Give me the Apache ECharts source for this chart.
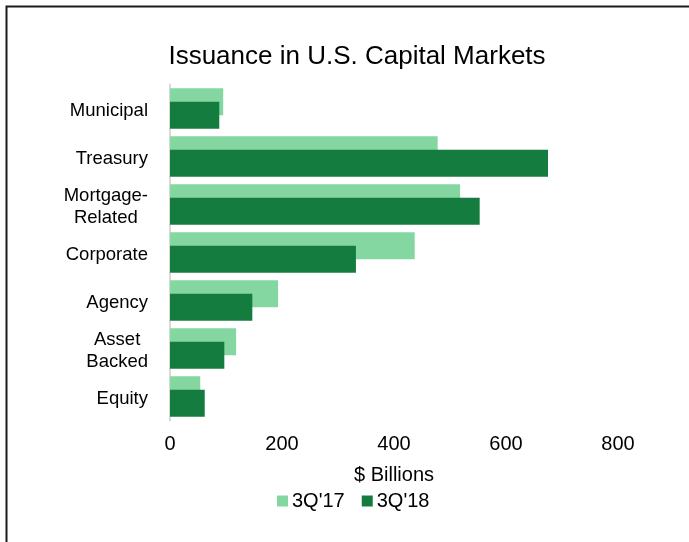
<!DOCTYPE html>
<html>
<head>
<meta charset="utf-8">
<script src="https://cdn.jsdelivr.net/npm/echarts@6/dist/echarts.min.js"></script>
<style>
  html, body { margin: 0; padding: 0; background: #fff; }
  #chart { width: 689px; height: 542px; }
</style>
</head>
<body>
<div id="chart"></div>
<script>
// Issuance by market segment, $ billions
const categories = ['Municipal', 'Treasury', 'Mortgage-\nRelated', 'Corporate', 'Agency', 'Asset\nBacked', 'Equity'];
const issuance3Q17 = [95, 478, 518, 437, 193, 118, 54];
const issuance3Q18 = [88, 675, 553, 332, 147, 97, 62];
const xTicks = [0, 200, 400, 600, 800];

const LIGHT = '#84d7a1';
const DARK = '#147c3f';
const FONT = '"Liberation Sans", Arial, sans-serif';

const chart = echarts.init(document.getElementById('chart'));

chart.setOption({
  backgroundColor: '#fff',
  animation: false,
  textStyle: { fontFamily: FONT, color: '#000' },
  title: {
    text: 'Issuance in U.S. Capital Markets',
    left: 352,
    textAlign: 'center',
    top: 39,
    textStyle: { fontFamily: FONT, fontSize: 26, fontWeight: 'normal', color: '#000' }
  },
  graphic: [{
    type: 'rect',
    shape: { x: 6.5, y: 6.5, width: 700, height: 560 },
    style: { fill: 'none', stroke: '#1a1a1a', lineWidth: 2 },
    silent: true
  }],
  legend: {
    left: 272,
    top: 486,
    itemWidth: 11,
    itemHeight: 11,
    itemGap: 17,
    icon: 'rect',
    textStyle: { fontFamily: FONT, fontSize: 20, color: '#000', padding: [0, 0, 0, -1] },
    data: ['3Q\'17', '3Q\'18']
  },
  grid: { left: 170, right: 71, top: 84.5, bottom: 121.5, containLabel: false },
  xAxis: {
    type: 'value',
    min: xTicks[0],
    max: xTicks[xTicks.length - 1],
    interval: xTicks[1] - xTicks[0],
    name: '$ Billions',
    nameLocation: 'middle',
    nameGap: 45,
    nameTextStyle: { fontFamily: FONT, fontSize: 20, color: '#000' },
    axisLine: { show: false },
    axisTick: { show: false },
    splitLine: { show: false },
    axisLabel: { fontFamily: FONT, fontSize: 20, color: '#000', margin: 14 }
  },
  yAxis: {
    type: 'category',
    inverse: true,
    data: categories,
    axisTick: { show: false },
    axisLine: { lineStyle: { color: '#d9d9d9', width: 2 } },
    axisLabel: {
      margin: 22,
      align: 'right',
      fontFamily: FONT,
      fontSize: 18.5,
      color: '#000',
      lineHeight: 22,
      padding: [4, 0, 0, 0],
      formatter: function (v) {
        return v.split('\n').map(function (s) { return '{c|' + s + '}'; }).join('\n');
      },
      rich: {
        c: { align: 'center', fontFamily: FONT, fontSize: 18.5, color: '#000', lineHeight: 22 }
      }
    }
  },
  series: [
    {
      name: '3Q\'17',
      type: 'bar',
      data: issuance3Q17,
      barWidth: 27,
      barGap: '-50%',
      itemStyle: { color: LIGHT },
      z: 2
    },
    {
      name: '3Q\'18',
      type: 'bar',
      data: issuance3Q18,
      barWidth: 27,
      barGap: '-50%',
      itemStyle: { color: DARK },
      z: 3
    }
  ]
});
</script>
</body>
</html>
